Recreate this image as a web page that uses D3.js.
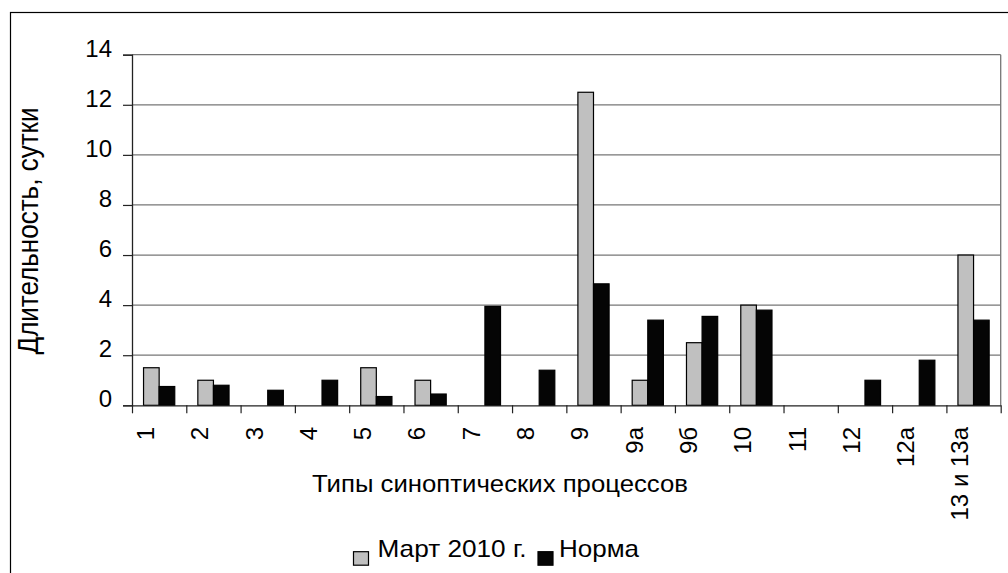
<!DOCTYPE html>
<html>
<head>
<meta charset="utf-8">
<script src="https://cdn.jsdelivr.net/npm/d3@7"></script>
<style>
  html, body { margin: 0; padding: 0; background: #fff; }
  svg { display: block; }
  text { font-family: "Liberation Sans", Arial, sans-serif; fill: #000; }
</style>
</head>
<body>
<div id="chart"></div>
<script>
// Types of synoptic processes vs duration (days)
const categories = ['1', '2', '3', '4', '5', '6', '7', '8', '9', '9а', '9б', '10', '11', '12', '12а', '13 и 13а'];
const march2010 = [1.5, 1, 0, 0, 1.5, 1, 0, 0, 12.5, 1, 2.5, 4, 0, 0, 0, 6];
const norm = [0.75, 0.8, 0.6, 1, 0.35, 0.45, 3.95, 1.4, 4.85, 3.4, 3.55, 3.8, 0, 1, 1.8, 3.4];
const seriesNames = ['Март 2010 г.', 'Норма'];
const yTicks = [0, 2, 4, 6, 8, 10, 12, 14];

const W = 1008, H = 573;
const plot = { left: 132, right: 1000.7, top: 54.7, bottom: 405.3 };
const colors = ['#c0c0c0', '#050505'];

const svg = d3.select('#chart').append('svg')
  .attr('width', W)
  .attr('height', H);

// outer chart border (cropped at right and bottom)
svg.append('rect')
  .attr('x', 10.5).attr('y', 12.5)
  .attr('width', W + 20).attr('height', H + 20)
  .attr('fill', 'none')
  .attr('stroke', '#000')
  .attr('stroke-width', 1.2);

// scales
const x0 = d3.scaleBand()
  .domain(categories)
  .range([plot.left, plot.right])
  .padding(0);
const x1 = d3.scaleBand()
  .domain(d3.range(seriesNames.length))
  .range([0, x0.bandwidth()])
  .paddingInner(0)
  .paddingOuter(0.74);
const y = d3.scaleLinear()
  .domain([0, 14])
  .range([plot.bottom, plot.top]);
const xEdge = d3.scaleLinear()
  .domain([0, categories.length])
  .range([plot.left, plot.right]);

// gridlines
svg.append('g')
  .attr('class', 'grid')
  .selectAll('line')
  .data(yTicks.filter(d => d > 0))
  .enter().append('line')
  .attr('x1', plot.left).attr('x2', plot.right)
  .attr('y1', d => y(d)).attr('y2', d => y(d))
  .attr('stroke', '#767676')
  .attr('stroke-width', 1.3);

// plot area right border
svg.append('line')
  .attr('x1', plot.right).attr('x2', plot.right)
  .attr('y1', plot.top).attr('y2', plot.bottom)
  .attr('stroke', '#767676')
  .attr('stroke-width', 1.3);

// bars
const rows = categories.map((c, i) => ({ cat: c, values: [march2010[i], norm[i]] }));
const groups = svg.append('g').selectAll('g')
  .data(rows)
  .enter().append('g')
  .attr('transform', d => `translate(${x0(d.cat)},0)`);

groups.selectAll('rect')
  .data(d => d.values.map((v, k) => ({ k, v })).filter(e => e.v > 0))
  .enter().append('rect')
  .attr('x', d => x1(d.k))
  .attr('width', x1.bandwidth())
  .attr('y', d => y(d.v))
  .attr('height', d => y(0) - y(d.v))
  .attr('fill', d => colors[d.k])
  .attr('stroke', '#000')
  .attr('stroke-width', 1.2);

// y axis
const yAxis = svg.append('g')
  .attr('transform', `translate(${plot.left},0)`)
  .call(d3.axisLeft(y).tickValues(yTicks).tickSize(9).tickPadding(11).tickFormat(d3.format('d')));
yAxis.select('.domain').attr('stroke', '#222').attr('stroke-width', 1.3);
yAxis.selectAll('.tick line').attr('stroke', '#222').attr('stroke-width', 1.2);
yAxis.selectAll('.tick text')
  .attr('dy', 1.5)
  .style('font-size', '24px')
  .style('font-family', '"Liberation Sans", Arial, sans-serif')
  .attr('fill', '#000');

// x axis (ticks on category boundaries)
const xAxis = svg.append('g')
  .attr('transform', `translate(0,${plot.bottom})`)
  .call(d3.axisBottom(xEdge).tickValues(d3.range(categories.length + 1)).tickSize(8).tickSizeOuter(0).tickFormat(''));
xAxis.select('.domain').attr('stroke', '#222').attr('stroke-width', 1.3);
xAxis.selectAll('.tick line').attr('stroke', '#222').attr('stroke-width', 1.2);

// x tick labels, rotated
svg.append('g').selectAll('text')
  .data(categories)
  .enter().append('text')
  .attr('transform', d => `translate(${x0(d) + 22},427) rotate(-90)`)
  .attr('text-anchor', 'end')
  .style('font-size', '24px')
  .text(d => d);

// axis titles
svg.append('text')
  .attr('x', 500)
  .attr('y', 492)
  .attr('text-anchor', 'middle')
  .attr('textLength', 376)
  .attr('lengthAdjust', 'spacingAndGlyphs')
  .style('font-size', '23px')
  .text('Типы синоптических процессов');

svg.append('text')
  .attr('transform', 'translate(38,231) rotate(-90)')
  .attr('text-anchor', 'middle')
  .attr('textLength', 247)
  .attr('lengthAdjust', 'spacingAndGlyphs')
  .style('font-size', '29px')
  .text('Длительность, сутки');

// legend
const legendItems = [
  { name: seriesNames[0], color: colors[0], box: 353.5, tx: 377.5, tw: 149 },
  { name: seriesNames[1], color: colors[1], box: 538, tx: 559, tw: 80 }
];
const legend = svg.append('g').attr('class', 'legend');
legend.selectAll('rect')
  .data(legendItems)
  .enter().append('rect')
  .attr('x', d => d.box)
  .attr('y', 551.7)
  .attr('width', 15)
  .attr('height', 13.5)
  .attr('fill', d => d.color)
  .attr('stroke', '#000')
  .attr('stroke-width', 1.2);
legend.selectAll('text')
  .data(legendItems)
  .enter().append('text')
  .attr('x', d => d.tx)
  .attr('y', 557.3)
  .attr('textLength', d => d.tw)
  .attr('lengthAdjust', 'spacingAndGlyphs')
  .style('font-size', '24px')
  .text(d => d.name);
</script>
</body>
</html>
